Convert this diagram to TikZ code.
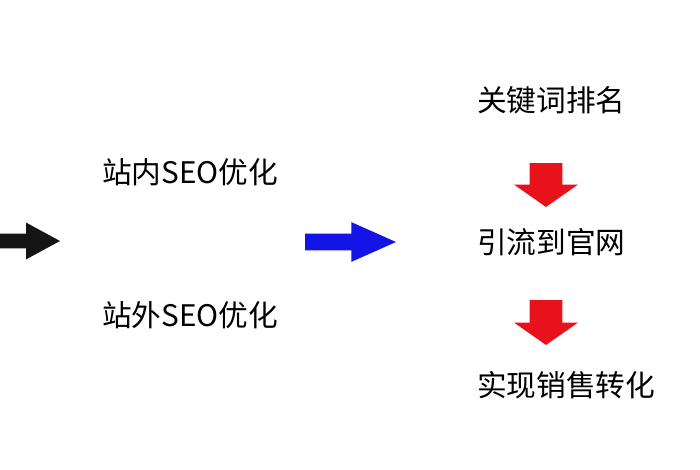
\documentclass[tikz,border=0pt]{standalone}
\usepackage{fontspec}
\setmainfont{Noto Sans CJK SC}
\usetikzlibrary{shapes.arrows}
\definecolor{sblack}{HTML}{151515}
\definecolor{sblue}{HTML}{1414E6}
\definecolor{sred}{HTML}{E8121C}

\begin{document}
\begin{tikzpicture}[x=0.02cm, y=-0.02cm, font=\fontsize{16.9}{20}\selectfont,
  blockarrow/.style={single arrow, draw=none, inner xsep=0pt, outer sep=0pt, anchor=tail}]
  \useasboundingbox[fill=white] (0,0) rectangle (700,470);

  % left column: the two ways of optimising
  \node[anchor=west] (inner) at (96,172) {站内SEO优化};
  \node[anchor=west] (outer) at (96,315) {站外SEO优化};

  % right column: keywords -> traffic -> sales
  \node[anchor=west] (rank)  at (471,100) {关键词排名};
  \node[anchor=west] (flow)  at (471,242) {引流到官网};
  \node[anchor=west] (sales) at (471,385) {实现销售转化};

  % block arrows, placed by their tails (black one is cut by the left edge)
  \node[blockarrow, fill=sblack, minimum height=1.2cm, inner ysep=0.14cm,
        single arrow head extend=0.22cm, single arrow tip angle=57] (into) at (0,241) {};
  \node[blockarrow, fill=sblue, minimum height=1.82cm, inner ysep=0.16cm,
        single arrow head extend=0.23cm, single arrow tip angle=48] (mid) at (305,242) {};
  \node[blockarrow, fill=sred, rotate=-90, minimum height=0.88cm, inner ysep=0.32cm,
        single arrow head extend=0.31cm, single arrow tip angle=110] (downA) at (546,163) {};
  \node[blockarrow, fill=sred, rotate=-90, minimum height=0.9cm, inner ysep=0.32cm,
        single arrow head extend=0.31cm, single arrow tip angle=110] (downB) at (546,300) {};
\end{tikzpicture}
\end{document}
